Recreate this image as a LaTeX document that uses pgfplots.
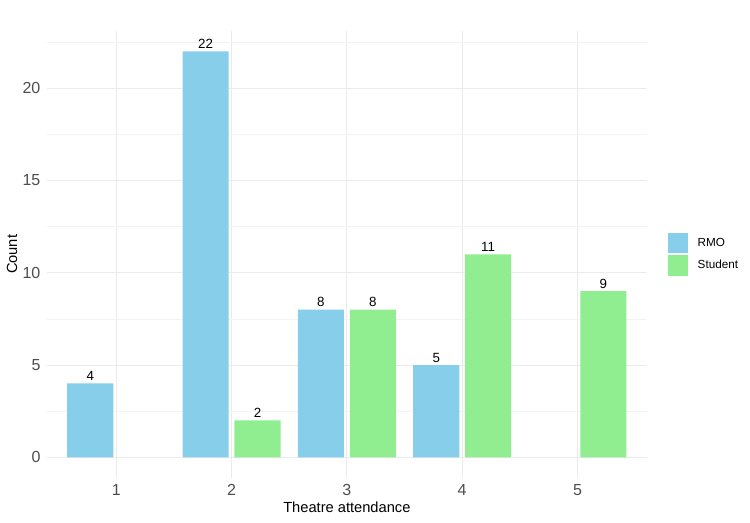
\documentclass[border=0pt]{standalone}
\usepackage{fontspec}
\setmainfont{Liberation Sans}
\usepackage{pgfplots}
\pgfplotsset{compat=1.18}
\definecolor{rmo}{HTML}{87CEEB}
\definecolor{stu}{HTML}{90EE90}
\definecolor{gmaj}{HTML}{EBEBEB}
\definecolor{gmin}{HTML}{F3F3F3}
\definecolor{tick}{HTML}{4D4D4D}
\begin{document}
\begin{tikzpicture}
\path[use as bounding box] (-35.3pt,-33.3pt) rectangle (527.2pt,358.2pt);
\begin{axis}[
  scale only axis,
  width=449.7pt, height=334.9pt,
  xmin=0.4, xmax=5.6, ymin=-1.1, ymax=23.1,
  axis line style={draw=none},
  major tick length=0pt, minor tick length=0pt,
  xtick={1,2,3,4,5},
  ytick={0,5,10,15,20},
  minor ytick={2.5,7.5,12.5,17.5,22.5},
  xmajorgrids, ymajorgrids, yminorgrids,
  major grid style={gmaj, line width=0.8pt},
  minor grid style={gmin, line width=0.5pt},
  /pgf/number format/assume math mode=true,
  tick label style={font=\fontsize{12}{14}\selectfont, text=tick},
  yticklabel style={inner sep=0pt, anchor=east, xshift=-4.8pt},
  xticklabel style={inner sep=0pt, anchor=north, yshift=-4.8pt},
  xlabel={Theatre attendance},
  ylabel={Count},
  label style={font=\fontsize{11}{13}\selectfont},
  xlabel style={at={(axis description cs:0.5,-0.0674)}, anchor=center},
  ylabel style={at={(axis description cs:-0.0585,0.5)}, anchor=center, rotate=0},
  legend style={at={(axis description cs:1.0355,0.5)}, anchor=west,
    draw=none, fill=none, inner sep=0pt, outer sep=0pt,
    row sep=1.7pt, /tikz/column sep=7pt,
    nodes={inner sep=0pt, anchor=west, font=\fontsize{8.8}{10}\selectfont}},
  legend cell align=left,
  legend image code/.code={\fill[#1,draw=none] (0pt,-7.6pt) rectangle (15.3pt,7.6pt);},
  nodes near coords,
  every node near coord/.append style={font=\fontsize{10}{12}\selectfont, text=black, inner sep=0pt, anchor=south, yshift=1.8pt},
  /pgf/number format/assume math mode=true,
]
\addplot[ybar, bar width=0.4, bar shift=0pt, fill=rmo, draw=none] coordinates {(0.775,4) (1.775,22) (2.775,8) (3.775,5)};
\addlegendentry{RMO}
\addplot[ybar, bar width=0.4, bar shift=0pt, fill=stu, draw=none] coordinates {(2.225,2) (3.225,8) (4.225,11) (5.225,9)};
\addlegendentry{Student}
\end{axis}
\end{tikzpicture}
\end{document}
